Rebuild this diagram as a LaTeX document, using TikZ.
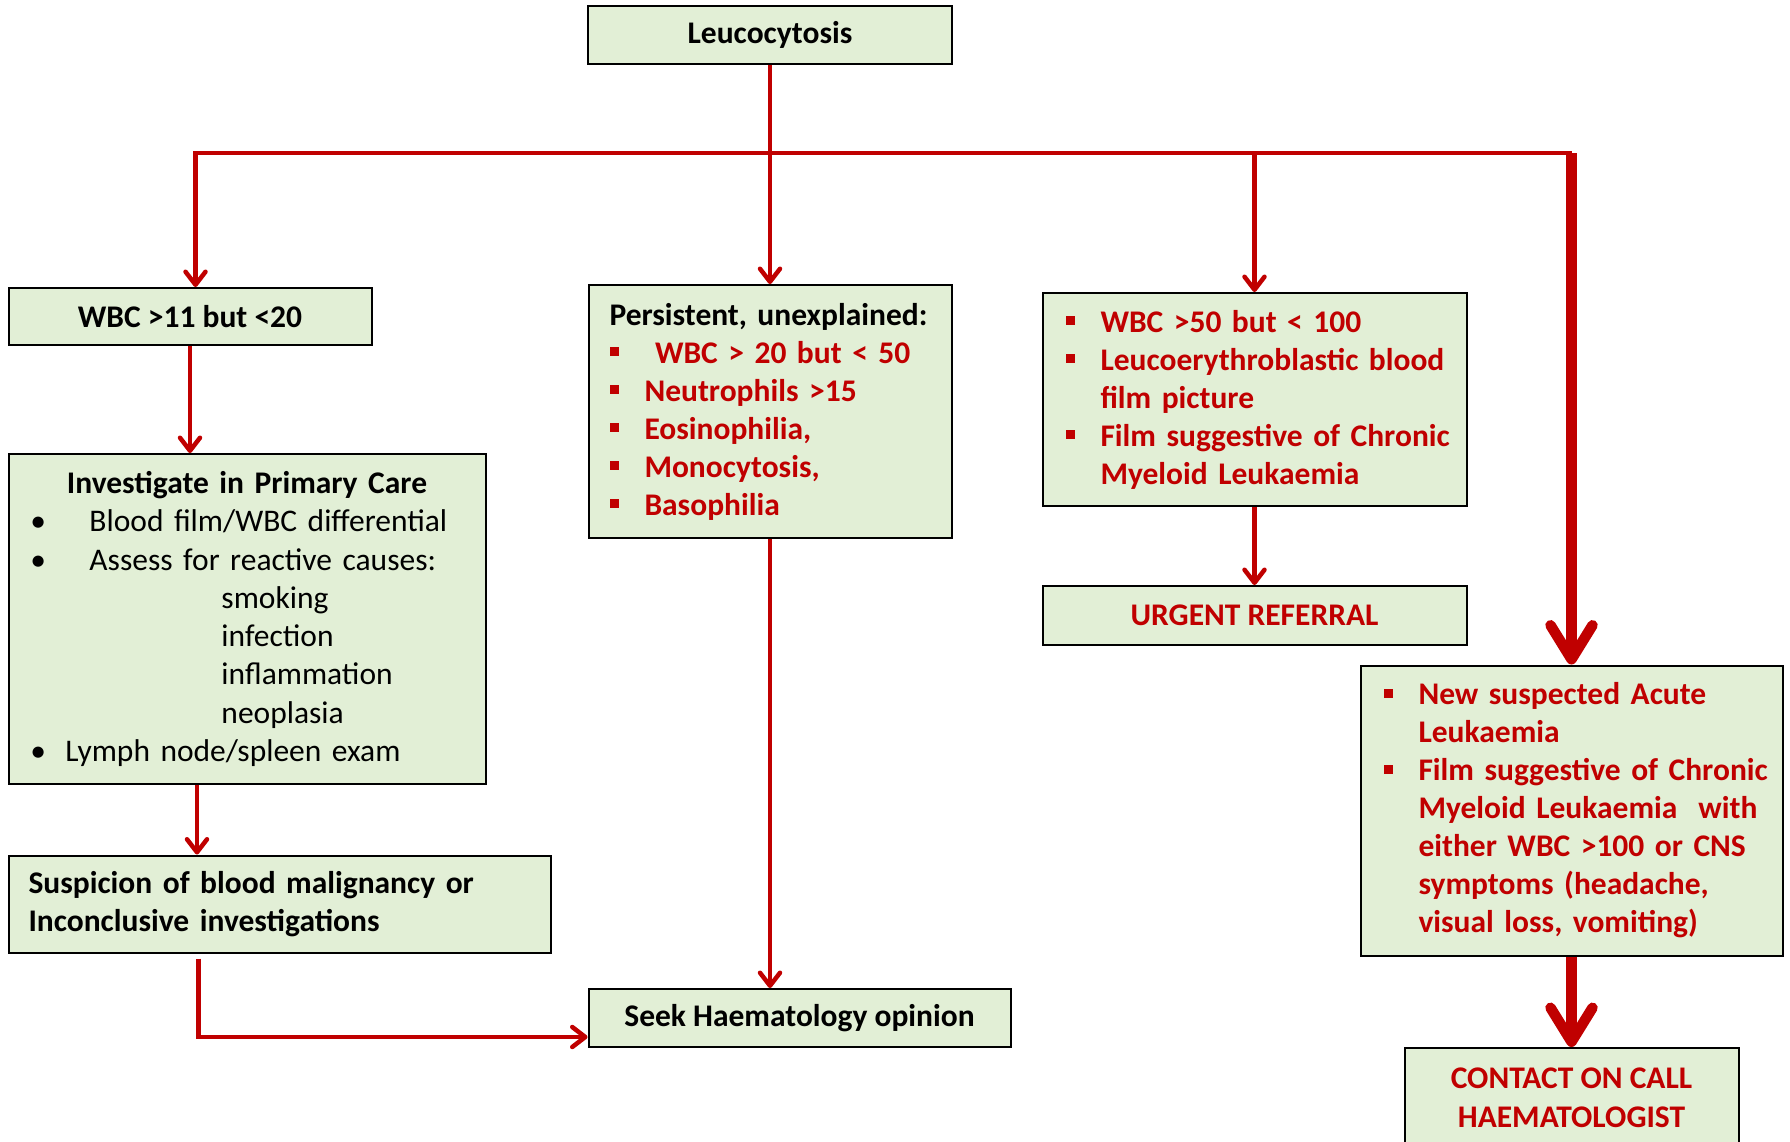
\documentclass[tikz,border=0pt]{standalone}
\usepackage{fontspec}
\setmainfont{Carlito}
\usetikzlibrary{arrows.meta}
\definecolor{boxgreen}{HTML}{E2EFD6}
\definecolor{darkred}{HTML}{C00000}
\tikzstyle{greenbox} = [rectangle, draw=black, line width=2pt, fill=boxgreen, align=center, font=\fontsize{31.5}{38}\selectfont\bfseries]
\tikzstyle{listbox} = [greenbox, align=left, text=darkred, inner xsep=23pt, text width=378pt]
\tikzstyle{arrow} = [draw=darkred, line width=4.5pt, -{Straight Barb[length=13pt,width=20pt,round]}]
\tikzstyle{bigarrow} = [draw=darkred, line width=10.5pt, -{Straight Barb[length=34pt,width=42pt,round]}]
\newcommand{\sqbul}{\makebox[35pt][l]{\rule[7pt]{9pt}{9pt}}}
\newcommand{\bitem}[1]{\mbox{\sqbul#1}}
\newcommand{\bcont}[1]{\mbox{\hspace*{35pt}#1}}

\begin{document}
\begin{tikzpicture}[x=1pt, y=1pt, node distance=100pt]
\useasboundingbox (0,0) rectangle (1790,-1141);
\clip (0,0) rectangle (1790,-1141);
\node (leuco) [greenbox, minimum width=364pt, minimum height=58pt] at (770,-35) {\raisebox{-3pt}{Leucocytosis}};
\node (persist) [listbox, inner xsep=21pt, text width=321pt, minimum height=253pt, below of=leuco, yshift=-276.5pt] {\textcolor{black}{Persistent, unexplained:}\\
\bitem{\ WBC > 20 but < 50}\\
\bitem{Neutrophils >15}\\
\bitem{Eosinophilia,}\\
\bitem{Monocytosis,}\\
\bitem{Basophilia}};
\node (wbcA) [greenbox, minimum width=363pt, minimum height=57pt, left of=persist, xshift=-480pt, yshift=95pt] {WBC >11 but <20};
\node (invest) [greenbox, align=left, font=\fontsize{31.5}{38.3}\selectfont, inner xsep=22pt, text width=433pt, minimum height=330pt, below of=wbcA, xshift=57pt, yshift=-202.5pt] {\makebox[433pt]{\bfseries Investigate in Primary Care}\\
\makebox[59pt][l]{\textbullet}Blood film/WBC differential\\
\makebox[59pt][l]{\textbullet}Assess for reactive causes:\\
\hspace*{191pt}smoking\\
\hspace*{191pt}infection\\
\hspace*{191pt}inflammation\\
\hspace*{191pt}neoplasia\\
\makebox[35pt][l]{\textbullet}Lymph node/spleen exam};
\node (suspect) [greenbox, align=left, inner xsep=20pt, text width=502pt, minimum height=97pt, below of=invest, xshift=32.5pt, yshift=-185pt] {Suspicion of blood malignancy or\\Inconclusive investigations};
\node (seek) [greenbox, minimum width=422pt, minimum height=58pt, below of=persist, xshift=29.5pt, yshift=-506.5pt] {Seek Haematology opinion};
\node (wbcC) [listbox, minimum height=213pt, right of=persist, xshift=384.5pt, yshift=12pt] {\bitem{WBC >50 but < 100}\\
\bitem{Leucoerythroblastic blood}\\
\bcont{film picture}\\
\bitem{Film suggestive of Chronic}\\
\bcont{Myeloid Leukaemia}};
\node (urgent) [greenbox, text=darkred, minimum width=424pt, minimum height=59pt, below of=wbcC, yshift=-116pt] {URGENT REFERRAL};
\node (acute) [listbox, text width=376pt, minimum height=290pt, right of=urgent, xshift=217pt, yshift=-195pt] {\bitem{New suspected Acute}\\
\bcont{Leukaemia}\\
\bitem{Film suggestive of Chronic}\\
\bcont{Myeloid Leukaemia\ \ with}\\
\bcont{either WBC >100 or CNS}\\
\bcont{symptoms (headache,}\\
\bcont{visual loss, vomiting)}};
\node (contact) [greenbox, text=darkred, font=\fontsize{31.5}{38.5}\selectfont\bfseries, minimum width=334pt, inner ysep=20pt, text depth=60pt, below of=acute, anchor=north, yshift=-136.5pt] {CONTACT ON CALL\\HAEMATOLOGIST};

\coordinate (bus) at ([yshift=-88pt]leuco.south);
\draw [arrow] (leuco.south) -- (leuco.south |- persist.north);
\draw [arrow] (bus -| acute.north) -- ([xshift=5.5pt]bus -| wbcA.north) -- ([xshift=5.5pt]wbcA.north);
\draw [bigarrow] (bus -| acute.north) -- (acute.north);
\draw [arrow] (bus -| wbcC.north) -- (wbcC.north);
\draw [arrow] (wbcA.south) -- (wbcA.south |- invest.north);
\draw [arrow] ([xshift=-50pt]invest.south) -- ([xshift=-50pt]invest.south |- suspect.north);
\draw [arrow] ([xshift=-81pt,yshift=-5pt]suspect.south) |- ([yshift=-19pt]seek.west);
\draw [arrow] (persist.south) -- (persist.south |- seek.north);
\draw [arrow] (wbcC) -- (urgent);
\draw [bigarrow] (acute) -- (contact);
\end{tikzpicture}
\end{document}
